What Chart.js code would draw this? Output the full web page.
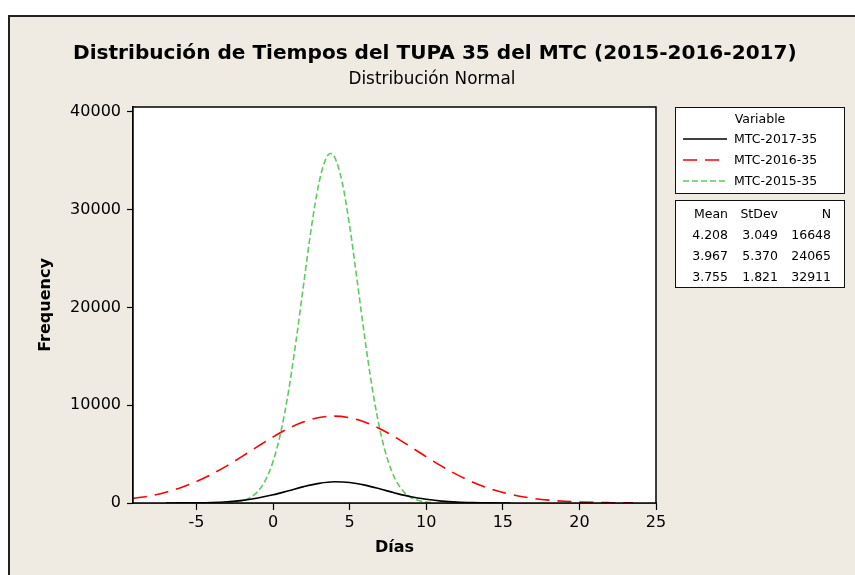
<!DOCTYPE html>
<html>
<head>
<meta charset="utf-8">
<script src="https://cdn.jsdelivr.net/npm/chart.js@4.4.1/dist/chart.umd.min.js"></script>
<style>
  html, body { margin: 0; padding: 0; background: #ffffff; }
  body { width: 855px; height: 575px; position: relative; overflow: hidden; font-family: "DejaVu Sans", sans-serif; }
  #frame { position: absolute; left: 8px; top: 15px; width: 860px; height: 580px; background: #EFEBE2; border-left: 2px solid #222; border-top: 2px solid #222; }
  #wrap { position: absolute; left: 0; top: 0; width: 855px; height: 575px; }
  .t { position: absolute; white-space: nowrap; color: #000; line-height: 1; }
  .box { position: absolute; background: #fff; border: 1.5px solid #111; box-sizing: border-box; }
  .lg { position: absolute; font-size: 12.5px; line-height: 1; white-space: nowrap; color: #000; }
  .r { text-align: right; }
</style>
</head>
<body>
<div id="frame"></div>
<div id="wrap"><canvas id="c" width="855" height="575"></canvas></div>
<div class="t" id="title" data-w="bold" data-target="724" style="font-weight:bold;">Distribución de Tiempos del TUPA 35 del MTC (2015-2016-2017)</div>
<div class="t" id="subtitle" data-w="normal" data-target="167">Distribución Normal</div>

<div class="box" style="left:675px; top:107px; width:170px; height:87px;"></div>
<div class="box" style="left:675px; top:200px; width:170px; height:88px;"></div>
<div id="legend"></div>

<script>
// ---- data ----
const seriesNames = ["MTC-2017-35", "MTC-2016-35", "MTC-2015-35"];
const statMean = ["4.208", "3.967", "3.755"];
const statStDev = ["3.049", "5.370", "1.821"];
const statN = ["16648", "24065", "32911"];

const x2017 = [-7,-6,-5,-4,-3,-2,-1,0,1,2,3,4,5,6,7,8,9,10,11,12,13,14,15,15.5];
const y2017 = [3,8,23,58,133,273,505,839,1249,1672,2009,2168,2101,1828,1429,1003,632,380,190,85,34,13,4,2];

const x2016 = [-9.15,-8,-7,-6,-5,-4,-3,-2,-1,0,1,2,3,4,5,6,7,8,9,10,11,12,13,14,15,16,17,18,19,20,21,22,23,23.5];
const y2016 = [470,741,1103,1586,2203,2954,3827,4790,5790,6759,7624,8304,8737,8880,8717,8266,7571,6698,5724,4724,3766,2900,2158,1550,1075,721,467,292,176,103,58,32,17,12];

const x2015 = [-3,-2.5,-2,-1.5,-1,-0.5,0,0.5,1,1.5,2,2.5,3,3.5,3.75,4,4.5,5,5.5,6,6.5,7,7.5,8,8.5,9,9.5,10,10.5];
const y2015 = [37,98,242,556,1183,2331,4264,7235,11381,16607,22466,28188,32800,35395,35745,35423,32875,28296,22584,16718,11478,7306,4314,2362,1199,565,247,100,38];

const xTickValues = [-5, 0, 5, 10, 15, 20, 25];
const yTickValues = [0, 10000, 20000, 30000, 40000];
const xMin = -9.15, xMax = 25;
const yMin = 0, yMax = 40500;

function pts(xs, ys) { return xs.map((x, i) => ({ x: x, y: ys[i] })); }

// ---- text fitting for titles ----
function fit(id, cx, cy) {
  const el = document.getElementById(id);
  const ctx = document.createElement('canvas').getContext('2d');
  ctx.font = el.dataset.w + ' 20px "DejaVu Sans"';
  const w = ctx.measureText(el.textContent).width;
  const fs = 20 * (+el.dataset.target) / w;
  el.style.fontSize = fs + 'px';
  el.style.left = (cx - (+el.dataset.target) / 2) + 'px';
  el.style.top = (cy - fs * 0.48) + 'px';
}
fit('title', 435, 52);
fit('subtitle', 432, 78);

// ---- legend (HTML) ----
const lineStyles = [
  { color: '#000000', dash: '' },
  { color: '#FF0000', dash: '14,8' },
  { color: '#5FCB5F', dash: '6,3' }
];
(function () {
  const L = document.getElementById('legend');
  let h = '';
  h += '<div class="lg" style="left:675px; width:170px; text-align:center; top:113px;">Variable</div>';
  const rowY = [139, 160, 181];
  seriesNames.forEach((n, i) => {
    const s = lineStyles[i];
    h += '<svg style="position:absolute; left:683px; top:' + (rowY[i] - 2) + 'px;" width="44" height="4"><line x1="0" y1="2" x2="44" y2="2" stroke="' + s.color + '" stroke-width="1.6"' + (s.dash ? ' stroke-dasharray="' + s.dash + '"' : '') + '/></svg>';
    h += '<div class="lg" style="left:734px; top:' + (rowY[i] - 6) + 'px;">' + n + '</div>';
  });
  const hy = 214;
  h += '<div class="lg r" style="left:648px; width:80px; top:' + (hy - 6) + 'px;">Mean</div>';
  h += '<div class="lg r" style="left:698px; width:80px; top:' + (hy - 6) + 'px;">StDev</div>';
  h += '<div class="lg r" style="left:751px; width:80px; top:' + (hy - 6) + 'px;">N</div>';
  const ry = [235, 256, 277];
  for (let i = 0; i < 3; i++) {
    h += '<div class="lg r" style="left:648px; width:80px; top:' + (ry[i] - 6) + 'px;">' + statMean[i] + '</div>';
    h += '<div class="lg r" style="left:698px; width:80px; top:' + (ry[i] - 6) + 'px;">' + statStDev[i] + '</div>';
    h += '<div class="lg r" style="left:751px; width:80px; top:' + (ry[i] - 6) + 'px;">' + statN[i] + '</div>';
  }
  L.innerHTML = h;
})();

// ---- plot area background & frame ----
const plotBox = {
  id: 'plotBox',
  beforeDatasetsDraw(chart) {
    const a = chart.chartArea, c = chart.ctx;
    c.save();
    c.fillStyle = '#ffffff';
    c.fillRect(a.left, a.top, a.right - a.left, a.bottom - a.top);
    c.restore();
  },
  afterDraw(chart) {
    const a = chart.chartArea, c = chart.ctx;
    c.save();
    c.strokeStyle = '#000';
    c.lineWidth = 1.5;
    c.strokeRect(a.left, a.top, a.right - a.left, a.bottom - a.top);
    c.restore();
  }
};

const tickFont = { family: '"DejaVu Sans"', size: 16 };
const titleFont = { family: '"DejaVu Sans"', size: 16, weight: 'bold' };

new Chart(document.getElementById('c'), {
  type: 'line',
  data: {
    datasets: [
      { label: seriesNames[0], data: pts(x2017, y2017), borderColor: lineStyles[0].color, borderWidth: 1.6, pointRadius: 0, cubicInterpolationMode: 'monotone', fill: false },
      { label: seriesNames[1], data: pts(x2016, y2016), borderColor: lineStyles[1].color, borderWidth: 1.6, borderDash: [14, 8], pointRadius: 0, cubicInterpolationMode: 'monotone', fill: false },
      { label: seriesNames[2], data: pts(x2015, y2015), borderColor: lineStyles[2].color, borderWidth: 1.6, borderDash: [6, 3], pointRadius: 0, cubicInterpolationMode: 'monotone', fill: false }
    ]
  },
  options: {
    responsive: false,
    animation: false,
    events: [],
    layout: { padding: { left: 0, top: 107, right: 199, bottom: 0 } },
    plugins: { legend: { display: false }, tooltip: { enabled: false }, title: { display: false } },
    scales: {
      x: {
        type: 'linear', min: xMin, max: xMax,
        afterFit(s) { s.height = 72; },
        afterBuildTicks(s) { s.ticks = xTickValues.map(v => ({ value: v })); },
        ticks: { color: '#000', font: tickFont, padding: 3, maxRotation: 0, autoSkip: false, callback: v => String(v) },
        grid: { display: true, drawOnChartArea: false, drawTicks: true, tickLength: 7, color: '#000', tickColor: '#000', tickWidth: 1.2 },
        border: { display: true, color: '#000', width: 1.5 },
        title: { display: true, text: 'Días', color: '#000', font: titleFont, padding: { top: 0, bottom: 18 } }
      },
      y: {
        type: 'linear', min: yMin, max: yMax,
        afterFit(s) { s.width = 133; },
        afterBuildTicks(s) { s.ticks = yTickValues.map(v => ({ value: v })); },
        ticks: { color: '#000', font: tickFont, padding: 6, autoSkip: false, callback: v => String(v) },
        grid: { display: true, drawOnChartArea: false, drawTicks: true, tickLength: 6, color: '#000', tickColor: '#000', tickWidth: 1.2 },
        border: { display: true, color: '#000', width: 1.5 },
        title: { display: true, text: 'Frequency', color: '#000', font: titleFont, padding: { top: 36, bottom: 0 } }
      }
    }
  },
  plugins: [plotBox]
});
</script>
</body>
</html>
